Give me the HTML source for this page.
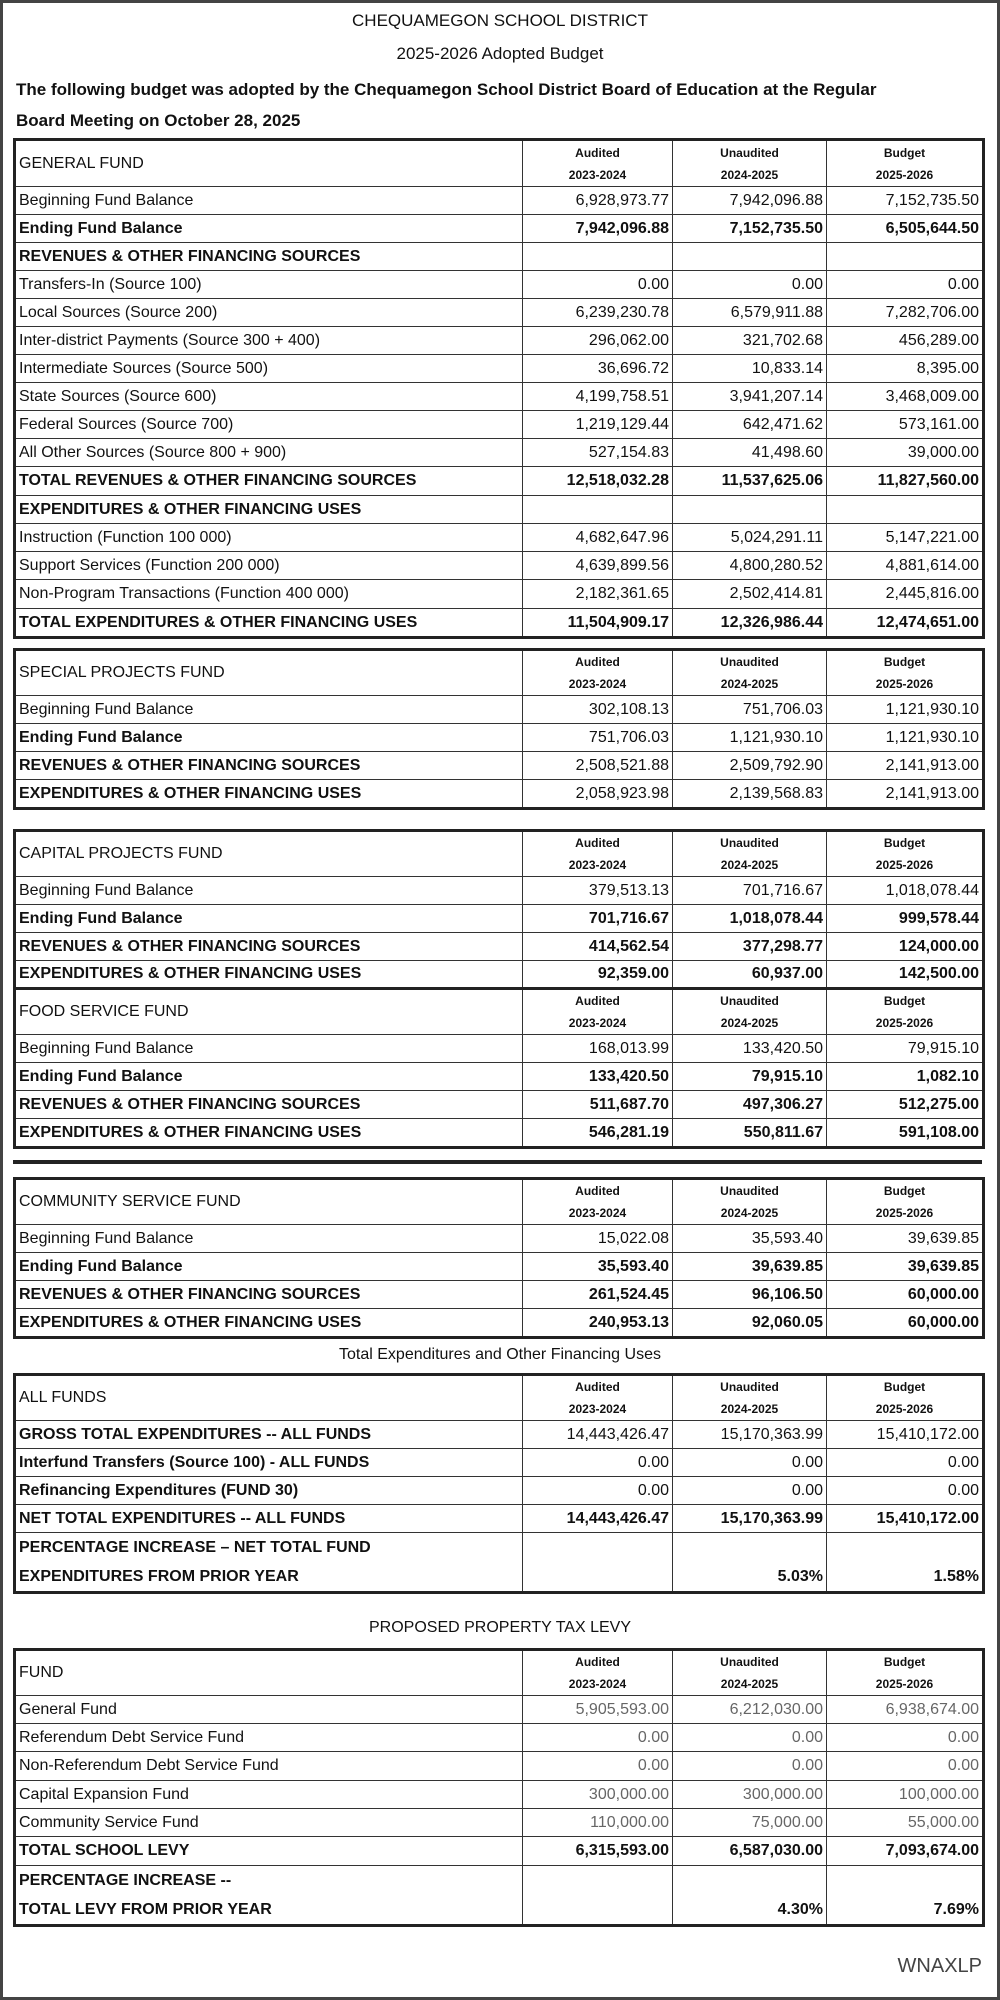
<!DOCTYPE html>
<html><head><meta charset="utf-8"><style>
*{margin:0;padding:0;box-sizing:border-box}
body{width:1000px;height:2000px;background:#fff;font-family:"Liberation Sans",sans-serif;color:#111;position:relative;overflow:hidden}
.frame{position:absolute;left:0;top:0;width:1000px;height:2000px;border:3px solid #444}
.t{position:absolute;left:0;width:1000px;text-align:center;font-size:17px}
.p{position:absolute;left:16px;font-size:17px;font-weight:bold}
table{position:absolute;left:13px;width:969px;border-collapse:collapse;table-layout:fixed;border:3px solid #222}
td{border:1.5px solid #333;font-size:16px;padding:0 3px;white-space:nowrap;overflow:hidden;line-height:18px}
td.n{text-align:right}
tr.h td{font-size:12px;font-weight:bold;text-align:center;line-height:22px;padding:0}
tr.h td.l{font-size:16px;text-align:left;padding:0 3px;font-weight:normal}
tr.b td{font-weight:bold}
tr.g td.n{color:#666}
.hr{position:absolute;left:13px;width:969px;top:1160px;height:4px;background:#222}
td.pc{vertical-align:bottom;padding-bottom:5px}
</style></head><body>
<div class="frame"></div>
<div class="t" style="top:11px">CHEQUAMEGON SCHOOL DISTRICT</div>
<div class="t" style="top:44px">2025-2026 Adopted Budget</div>
<div class="p" style="top:80px">The following budget was adopted by the Chequamegon School District Board of Education at the Regular</div>
<div class="p" style="top:111px">Board Meeting on October 28, 2025</div>

<table style="top:138px">
<colgroup><col style="width:508px"><col style="width:150px"><col style="width:154px"><col style="width:157px"></colgroup>
<tr class="h" style="height:47px"><td class="l">GENERAL FUND</td><td>Audited<br>2023-2024</td><td>Unaudited<br>2024-2025</td><td>Budget<br>2025-2026</td></tr>
<tr style="height:28px"><td>Beginning Fund Balance</td><td class="n">6,928,973.77</td><td class="n">7,942,096.88</td><td class="n">7,152,735.50</td></tr>
<tr class="b" style="height:28px"><td>Ending Fund Balance</td><td class="n">7,942,096.88</td><td class="n">7,152,735.50</td><td class="n">6,505,644.50</td></tr>
<tr class="b" style="height:28px"><td>REVENUES &amp; OTHER FINANCING SOURCES</td><td></td><td></td><td></td></tr>
<tr style="height:28px"><td>Transfers-In (Source 100)</td><td class="n">0.00</td><td class="n">0.00</td><td class="n">0.00</td></tr>
<tr style="height:28px"><td>Local Sources (Source 200)</td><td class="n">6,239,230.78</td><td class="n">6,579,911.88</td><td class="n">7,282,706.00</td></tr>
<tr style="height:28px"><td>Inter-district Payments (Source 300 + 400)</td><td class="n">296,062.00</td><td class="n">321,702.68</td><td class="n">456,289.00</td></tr>
<tr style="height:28px"><td>Intermediate Sources (Source 500)</td><td class="n">36,696.72</td><td class="n">10,833.14</td><td class="n">8,395.00</td></tr>
<tr style="height:28px"><td>State Sources (Source 600)</td><td class="n">4,199,758.51</td><td class="n">3,941,207.14</td><td class="n">3,468,009.00</td></tr>
<tr style="height:28px"><td>Federal Sources (Source 700)</td><td class="n">1,219,129.44</td><td class="n">642,471.62</td><td class="n">573,161.00</td></tr>
<tr style="height:28px"><td>All Other Sources (Source 800 + 900)</td><td class="n">527,154.83</td><td class="n">41,498.60</td><td class="n">39,000.00</td></tr>
<tr class="b" style="height:29px"><td>TOTAL REVENUES &amp; OTHER FINANCING SOURCES</td><td class="n">12,518,032.28</td><td class="n">11,537,625.06</td><td class="n">11,827,560.00</td></tr>
<tr class="b" style="height:28px"><td>EXPENDITURES &amp; OTHER FINANCING USES</td><td></td><td></td><td></td></tr>
<tr style="height:28px"><td>Instruction (Function 100 000)</td><td class="n">4,682,647.96</td><td class="n">5,024,291.11</td><td class="n">5,147,221.00</td></tr>
<tr style="height:28px"><td>Support Services (Function 200 000)</td><td class="n">4,639,899.56</td><td class="n">4,800,280.52</td><td class="n">4,881,614.00</td></tr>
<tr style="height:29px"><td>Non-Program Transactions (Function 400 000)</td><td class="n">2,182,361.65</td><td class="n">2,502,414.81</td><td class="n">2,445,816.00</td></tr>
<tr class="b" style="height:29px"><td>TOTAL EXPENDITURES &amp; OTHER FINANCING USES</td><td class="n">11,504,909.17</td><td class="n">12,326,986.44</td><td class="n">12,474,651.00</td></tr>
</table>

<table style="top:648px">
<colgroup><col style="width:508px"><col style="width:150px"><col style="width:154px"><col style="width:157px"></colgroup>
<tr class="h" style="height:45px"><td class="l">SPECIAL PROJECTS FUND</td><td>Audited<br>2023-2024</td><td>Unaudited<br>2024-2025</td><td>Budget<br>2025-2026</td></tr>
<tr style="height:28px"><td>Beginning Fund Balance</td><td class="n">302,108.13</td><td class="n">751,706.03</td><td class="n">1,121,930.10</td></tr>
<tr style="height:28px"><td><b>Ending Fund Balance</b></td><td class="n">751,706.03</td><td class="n">1,121,930.10</td><td class="n">1,121,930.10</td></tr>
<tr style="height:28px"><td><b>REVENUES &amp; OTHER FINANCING SOURCES</b></td><td class="n">2,508,521.88</td><td class="n">2,509,792.90</td><td class="n">2,141,913.00</td></tr>
<tr style="height:29px"><td><b>EXPENDITURES &amp; OTHER FINANCING USES</b></td><td class="n">2,058,923.98</td><td class="n">2,139,568.83</td><td class="n">2,141,913.00</td></tr>
</table>

<table style="top:829px">
<colgroup><col style="width:508px"><col style="width:150px"><col style="width:154px"><col style="width:157px"></colgroup>
<tr class="h" style="height:45px"><td class="l">CAPITAL PROJECTS FUND</td><td>Audited<br>2023-2024</td><td>Unaudited<br>2024-2025</td><td>Budget<br>2025-2026</td></tr>
<tr style="height:28px"><td>Beginning Fund Balance</td><td class="n">379,513.13</td><td class="n">701,716.67</td><td class="n">1,018,078.44</td></tr>
<tr class="b" style="height:28px"><td>Ending Fund Balance</td><td class="n">701,716.67</td><td class="n">1,018,078.44</td><td class="n">999,578.44</td></tr>
<tr class="b" style="height:28px"><td>REVENUES &amp; OTHER FINANCING SOURCES</td><td class="n">414,562.54</td><td class="n">377,298.77</td><td class="n">124,000.00</td></tr>
<tr class="b" style="height:28px"><td>EXPENDITURES &amp; OTHER FINANCING USES</td><td class="n">92,359.00</td><td class="n">60,937.00</td><td class="n">142,500.00</td></tr>
<tr class="h" style="height:45px"><td class="l" style="border-top:3px solid #222">FOOD SERVICE FUND</td><td style="border-top:3px solid #222">Audited<br>2023-2024</td><td style="border-top:3px solid #222">Unaudited<br>2024-2025</td><td style="border-top:3px solid #222">Budget<br>2025-2026</td></tr>
<tr style="height:28px"><td>Beginning Fund Balance</td><td class="n">168,013.99</td><td class="n">133,420.50</td><td class="n">79,915.10</td></tr>
<tr class="b" style="height:28px"><td>Ending Fund Balance</td><td class="n">133,420.50</td><td class="n">79,915.10</td><td class="n">1,082.10</td></tr>
<tr class="b" style="height:28px"><td>REVENUES &amp; OTHER FINANCING SOURCES</td><td class="n">511,687.70</td><td class="n">497,306.27</td><td class="n">512,275.00</td></tr>
<tr class="b" style="height:29px"><td>EXPENDITURES &amp; OTHER FINANCING USES</td><td class="n">546,281.19</td><td class="n">550,811.67</td><td class="n">591,108.00</td></tr>
</table>

<div class="hr"></div>

<table style="top:1177px">
<colgroup><col style="width:508px"><col style="width:150px"><col style="width:154px"><col style="width:157px"></colgroup>
<tr class="h" style="height:45px"><td class="l">COMMUNITY SERVICE FUND</td><td>Audited<br>2023-2024</td><td>Unaudited<br>2024-2025</td><td>Budget<br>2025-2026</td></tr>
<tr style="height:28px"><td>Beginning Fund Balance</td><td class="n">15,022.08</td><td class="n">35,593.40</td><td class="n">39,639.85</td></tr>
<tr class="b" style="height:28px"><td>Ending Fund Balance</td><td class="n">35,593.40</td><td class="n">39,639.85</td><td class="n">39,639.85</td></tr>
<tr class="b" style="height:28px"><td>REVENUES &amp; OTHER FINANCING SOURCES</td><td class="n">261,524.45</td><td class="n">96,106.50</td><td class="n">60,000.00</td></tr>
<tr class="b" style="height:29px"><td>EXPENDITURES &amp; OTHER FINANCING USES</td><td class="n">240,953.13</td><td class="n">92,060.05</td><td class="n">60,000.00</td></tr>
</table>

<div class="t" style="top:1346px;font-size:16px">Total Expenditures and Other Financing Uses</div>

<table style="top:1373px">
<colgroup><col style="width:508px"><col style="width:150px"><col style="width:154px"><col style="width:157px"></colgroup>
<tr class="h" style="height:44px"><td class="l">ALL FUNDS</td><td>Audited<br>2023-2024</td><td>Unaudited<br>2024-2025</td><td>Budget<br>2025-2026</td></tr>
<tr style="height:28px"><td><b>GROSS TOTAL EXPENDITURES -- ALL FUNDS</b></td><td class="n">14,443,426.47</td><td class="n">15,170,363.99</td><td class="n">15,410,172.00</td></tr>
<tr style="height:28px"><td><b>Interfund Transfers (Source 100) - ALL FUNDS</b></td><td class="n">0.00</td><td class="n">0.00</td><td class="n">0.00</td></tr>
<tr style="height:28px"><td><b>Refinancing Expenditures (FUND 30)</b></td><td class="n">0.00</td><td class="n">0.00</td><td class="n">0.00</td></tr>
<tr class="b" style="height:28px"><td>NET TOTAL EXPENDITURES -- ALL FUNDS</td><td class="n">14,443,426.47</td><td class="n">15,170,363.99</td><td class="n">15,410,172.00</td></tr>
<tr class="b" style="height:59px"><td style="line-height:29px">PERCENTAGE INCREASE – NET TOTAL FUND<br>EXPENDITURES FROM PRIOR YEAR</td><td></td><td class="n pc">5.03%</td><td class="n pc">1.58%</td></tr>
</table>

<div class="t" style="top:1619px;font-size:16px">PROPOSED PROPERTY TAX LEVY</div>

<table style="top:1648px">
<colgroup><col style="width:508px"><col style="width:150px"><col style="width:154px"><col style="width:157px"></colgroup>
<tr class="h" style="height:43px"><td class="l">FUND</td><td>Audited<br>2023-2024</td><td>Unaudited<br>2024-2025</td><td>Budget<br>2025-2026</td></tr>
<tr class="g" style="height:28px"><td>General Fund</td><td class="n">5,905,593.00</td><td class="n">6,212,030.00</td><td class="n">6,938,674.00</td></tr>
<tr class="g" style="height:28px"><td>Referendum Debt Service Fund</td><td class="n">0.00</td><td class="n">0.00</td><td class="n">0.00</td></tr>
<tr class="g" style="height:29px"><td>Non-Referendum Debt Service Fund</td><td class="n">0.00</td><td class="n">0.00</td><td class="n">0.00</td></tr>
<tr class="g" style="height:28px"><td>Capital Expansion Fund</td><td class="n">300,000.00</td><td class="n">300,000.00</td><td class="n">100,000.00</td></tr>
<tr class="g" style="height:28px"><td>Community Service Fund</td><td class="n">110,000.00</td><td class="n">75,000.00</td><td class="n">55,000.00</td></tr>
<tr class="b" style="height:29px"><td>TOTAL SCHOOL LEVY</td><td class="n">6,315,593.00</td><td class="n">6,587,030.00</td><td class="n">7,093,674.00</td></tr>
<tr class="b" style="height:57px"><td style="line-height:29px">PERCENTAGE INCREASE --<br>TOTAL LEVY FROM PRIOR YEAR</td><td></td><td class="n pc">4.30%</td><td class="n pc">7.69%</td></tr>
</table>

<div style="position:absolute;right:18px;top:1955px;font-size:20px;color:#444">WNAXLP</div>
</body></html>
